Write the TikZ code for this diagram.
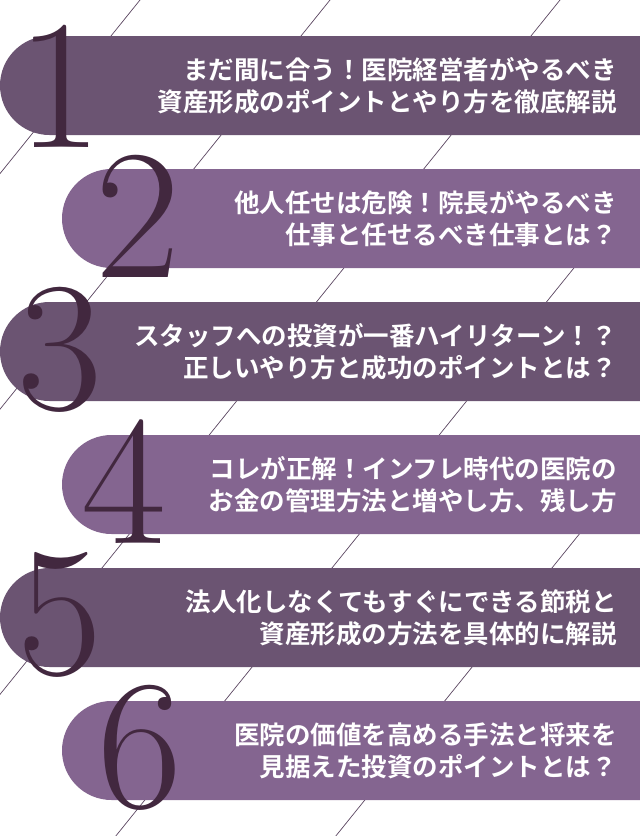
\documentclass[tikz,border=0pt]{standalone}
\usepackage{fontspec}
\newfontfamily\jp{Noto Sans CJK JP Bold}
\definecolor{bandA}{HTML}{6B5472}
\definecolor{bandB}{HTML}{846590}
\definecolor{numc}{HTML}{42283F}
\definecolor{linec}{HTML}{5A4560}
\tikzset{
  numeral/.style={text=numc,font=\fontsize{185}{185}\selectfont,inner sep=0pt},
  title/.style={text=white,font=\jp\fontsize{25.5}{32}\selectfont,align=right,anchor=east,inner sep=0pt},
  diag/.style={draw=linec,line width=0.7pt}
}
\begin{document}
\begin{tikzpicture}[x=1pt,y=-1pt]
\useasboundingbox (0,0) rectangle (640,836);
\clip (0,0) rectangle (640,836);
% diagonal lines
\foreach \xo in {140,330,560,790,1010}{
  \draw[diag] (\xo,0) -- ++(-800,992);
}
% bands
\foreach \i/\x/\c in {0/0/bandA,1/62/bandB,2/0/bandA,3/62/bandB,4/0/bandA,5/62/bandB}{
  \fill[\c,rounded corners=49.5pt] (\x,{36+133*\i}) rectangle (720,{135+133*\i});
}
% numerals
\node[numeral] (n1) at (60,86) {1};
\node[numeral] (n2) at (138,216) {2};
\node[numeral] (n3) at (60,350) {3};
\node[numeral] (n4) at (124,482) {4};
\node[numeral] (n5) at (60,615) {5};
\node[numeral] (n6) at (140,748) {6};
% titles
\node[title] (t1) at (617,86) {まだ間に合う！医院経営者がやるべき\\資産形成のポイントとやり方を徹底解説};
\node[title] (t2) at (617,219) {他人任せは危険！院長がやるべき\\仕事と任せるべき仕事とは？};
\node[title] (t3) at (617,352) {スタッフへの投資が一番ハイリターン！？\\正しいやり方と成功のポイントとは？};
\node[title] (t4) at (617,485) {コレが正解！インフレ時代の医院の\\お金の管理方法と増やし方、残し方};
\node[title] (t5) at (617,618) {法人化しなくてもすぐにできる節税と\\資産形成の方法を具体的に解説};
\node[title] (t6) at (617,751) {医院の価値を高める手法と将来を\\見据えた投資のポイントとは？};
\end{tikzpicture}
\end{document}
